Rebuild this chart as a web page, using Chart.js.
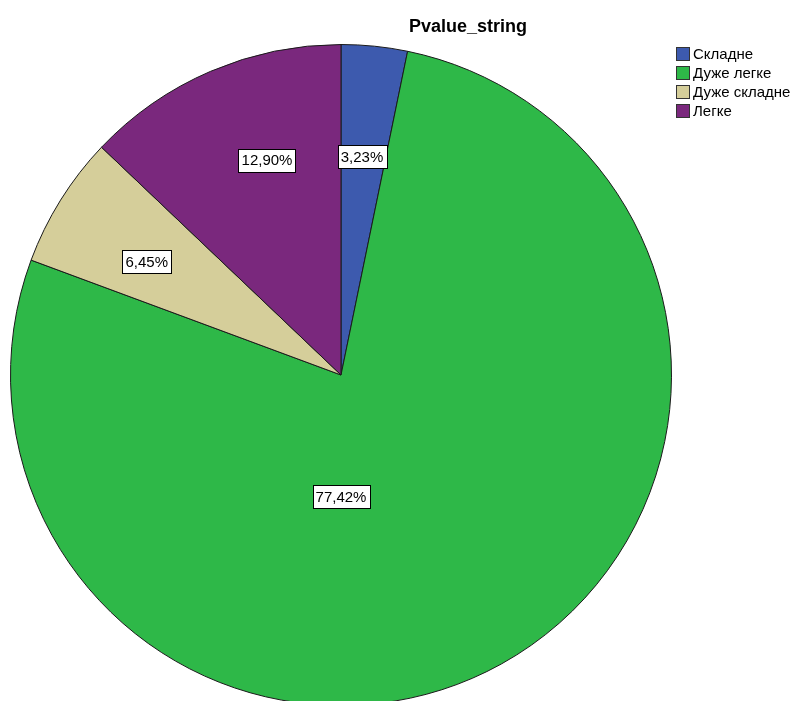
<!DOCTYPE html>
<html>
<head>
<meta charset="utf-8">
<script src="https://cdn.jsdelivr.net/npm/chart.js@4"></script>
<style>
  html, body { margin: 0; padding: 0; background: #fff; overflow: hidden; }
  #wrap { width: 796px; height: 701px; overflow: hidden; position: relative; }
  #chart { display: block; }
</style>
</head>
<body>
<div id="wrap"><canvas id="chart" width="796" height="712"></canvas></div>
<script>
const categories = ['Складне', 'Дуже легке', 'Дуже складне', 'Легке'];
const percents = [3.23, 77.42, 6.45, 12.90];
const colors = ['#3d5aae', '#2eb848', '#d5ce9a', '#7a287d'];
const chartTitle = 'Pvalue_string';

// where each label sits: fraction of radius, angle (deg from top, clockwise)
const labelSpots = [{ f: 0.664, a: 5.5 }, { f: 0.369, a: 180 }, { f: 0.68, a: 300.2 }, { f: 0.688, a: 341 }];

const fmtPct = (v) => v.toFixed(2).replace('.', ',') + '%';

const extras = {
  id: 'extras',
  afterDatasetsDraw(chart) {
    const ctx = chart.ctx;
    const arcs = chart.getDatasetMeta(0).data;
    ctx.save();
    ctx.font = '15px "Liberation Sans", Arial, sans-serif';
    ctx.textAlign = 'center';
    ctx.textBaseline = 'middle';
    arcs.forEach((arc, i) => {
      const { x, y, outerRadius } = arc.getProps(['x', 'y', 'outerRadius'], true);
      const spot = labelSpots[i];
      const ang = (spot.a - 90) * Math.PI / 180;
      const lx = x + Math.cos(ang) * outerRadius * spot.f;
      const ly = y + Math.sin(ang) * outerRadius * spot.f;
      const txt = fmtPct(percents[i]);
      const w = Math.round(ctx.measureText(txt).width + 6);
      const h = 23;
      const bx = Math.round(lx - w / 2) + 0.5;
      const by = Math.round(ly - h / 2) + 0.5;
      ctx.fillStyle = '#fff';
      ctx.fillRect(bx, by, w, h);
      ctx.strokeStyle = '#000';
      ctx.lineWidth = 1;
      ctx.strokeRect(bx, by, w, h);
      ctx.fillStyle = '#000';
      ctx.fillText(txt, lx, ly + 1);
    });

    // title
    ctx.font = 'bold 18px "Liberation Sans", Arial, sans-serif';
    ctx.fillText(chartTitle, 468, 27);

    // legend
    ctx.font = '15px "Liberation Sans", Arial, sans-serif';
    ctx.textAlign = 'left';
    categories.forEach((c, i) => {
      const ty = 55 + i * 19;
      ctx.fillStyle = colors[i];
      ctx.fillRect(676.5, ty - 7.5, 13, 13);
      ctx.strokeStyle = '#333';
      ctx.strokeRect(676.5, ty - 7.5, 13, 13);
      ctx.fillStyle = '#000';
      ctx.fillText(c, 693, ty);
    });
    ctx.restore();
  }
};

new Chart(document.getElementById('chart'), {
  type: 'pie',
  data: {
    labels: categories,
    datasets: [{
      data: percents,
      backgroundColor: colors,
      borderColor: '#1a1a1a',
      borderWidth: 1
    }]
  },
  options: {
    responsive: false,
    animation: false,
    layout: { padding: { left: 10, top: 44, right: 124, bottom: 6 } },
    plugins: {
      legend: { display: false },
      title: { display: false },
      tooltip: { enabled: false }
    }
  },
  plugins: [extras]
});
</script>
</body>
</html>
